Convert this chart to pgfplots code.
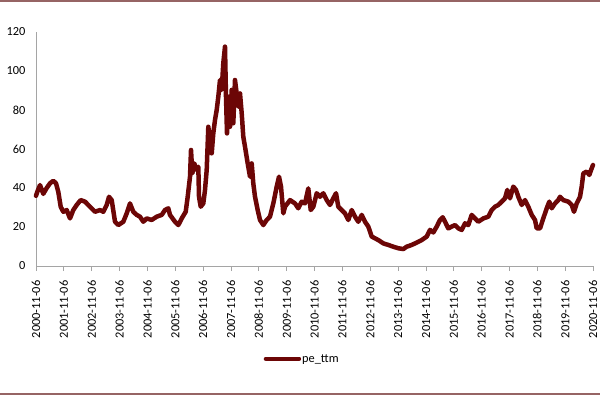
\documentclass[border=0pt]{standalone}
\usepackage{pgfplots}
\pgfplotsset{compat=1.18}
\usepackage{fontspec}
\setmainfont{Carlito}
\definecolor{lc}{RGB}{108,6,6}
\definecolor{fr}{RGB}{150,100,100}
\definecolor{ax}{RGB}{165,165,165}
\begin{document}
\begin{tikzpicture}[x=1bp,y=1bp]
\path[use as bounding box] (0,0) rectangle (600,396);
\draw[fr,line width=1.2bp] (0,395) -- (600,395);
\draw[fr,line width=1.2bp] (0,2) -- (600,2);
\begin{axis}[
  at={(36bp,130bp)}, anchor=south west,
  scale only axis, width=557bp, height=234bp,
  xmin=0, xmax=20, ymin=0, ymax=120,
  axis lines*=left,
  axis line style={ax, line width=0.8bp},
  xtick={0,...,20},
  xticklabels={2000-11-06,2001-11-06,2002-11-06,2003-11-06,2004-11-06,2005-11-06,2006-11-06,2007-11-06,2008-11-06,2009-11-06,2010-11-06,2011-11-06,2012-11-06,2013-11-06,2014-11-06,2015-11-06,2016-11-06,2017-11-06,2018-11-06,2019-11-06,2020-11-06},
  x tick label style={rotate=90, anchor=east, font=\fontsize{12.4}{14}\selectfont},
  xticklabel shift=6bp,
  ytick={0,20,...,120},
  y tick label style={font=\fontsize{12.4}{14}\selectfont},
  yticklabel shift=7bp,
  /pgf/number format/assume math mode=true,
  major tick length=5bp,
  xtick style={ax, line width=0.8bp},
  ytick style={draw=none},
  xtick align=outside,
  tick pos=left,
  clip=false,
  legend style={at={(0.477,-0.397)}, anchor=center, draw=none, fill=none, font=\fontsize{12.4}{14}\selectfont, nodes={inner xsep=1bp}},
  legend image code/.code={\draw[#1, line width=4.5bp, line cap=round] (0bp,0bp) -- (33bp,0bp);},
]
\addplot[lc, line width=4.5bp, line join=round, line cap=round] table {
x y
0.000 36
0.047 38
0.144 41.5
0.262 37
0.384 40
0.503 42.4
0.621 43.7
0.718 42.4
0.801 38
0.887 30.4
0.980 27.8
1.102 28.7
1.221 24.4
1.339 28.7
1.461 31.3
1.605 33.8
1.759 33
1.939 30.4
2.118 27.8
2.298 28.7
2.417 27.8
2.539 31.3
2.621 35.5
2.718 33.8
2.837 22.7
2.955 21
3.135 22.7
3.257 27
3.375 32.1
3.494 27.8
3.616 26.2
3.734 25.3
3.853 22.7
3.975 24.4
4.154 23.6
4.334 25.3
4.513 26.2
4.632 28.7
4.750 29.6
4.811 26.2
4.991 22.7
5.110 21
5.232 24.4
5.375 27.8
5.447 35.5
5.530 45.8
5.566 59.5
5.612 47.5
5.684 52.6
5.770 49.2
5.828 50.9
5.853 35.5
5.914 30.4
6.007 32.1
6.068 39
6.129 49.2
6.187 71.4
6.248 64.6
6.309 57.8
6.366 68
6.427 74.9
6.488 80
6.546 86.8
6.607 95.4
6.668 90.3
6.725 104
6.786 112.5
6.822 86.8
6.858 68
6.905 86.8
6.966 71.4
7.027 90.3
7.084 73.2
7.145 95.4
7.206 88.5
7.264 81.7
7.325 88.5
7.386 78.3
7.443 66.3
7.504 61.2
7.601 52.6
7.684 45.8
7.745 52.6
7.802 42.4
7.864 35.5
7.960 28.7
8.043 23.6
8.162 21
8.284 23.6
8.402 25.3
8.521 32.1
8.643 40.7
8.725 45.8
8.797 40.7
8.880 27
8.941 30.4
9.120 33.8
9.300 32.1
9.418 29.6
9.540 33
9.659 32.1
9.777 39.8
9.864 28.7
9.957 30.4
10.079 37.3
10.197 35.5
10.316 37.3
10.438 33.8
10.557 31.3
10.675 34.7
10.772 37.3
10.855 30.4
10.977 28.7
11.095 27
11.214 23.6
11.336 28.7
11.454 25.3
11.573 22.7
11.695 26.2
11.813 22.7
11.932 20.2
12.054 15.1
12.172 14.2
12.291 13.3
12.470 11.6
12.650 10.8
12.829 9.9
13.009 9.1
13.188 8.7
13.311 9.9
13.490 10.8
13.670 12
13.849 13.3
14.029 15.1
14.147 18.5
14.266 17.2
14.388 20.2
14.506 23.6
14.603 25
14.686 22.7
14.804 19.3
14.926 20.2
15.045 21
15.163 19.3
15.285 18.5
15.404 21.9
15.522 21
15.645 26.2
15.763 24.4
15.882 22.7
16.061 24.4
16.241 25.3
16.363 28.7
16.481 30.4
16.600 31.3
16.722 33
16.840 34.7
16.923 39
17.020 34.7
17.138 40.7
17.235 39
17.318 35.5
17.440 31.3
17.558 33.8
17.677 30.4
17.799 26.2
17.917 23.6
17.978 19.3
18.097 19.3
18.215 24.4
18.338 29.6
18.431 33
18.517 29.6
18.636 32.1
18.754 33.8
18.815 35.5
18.933 33.8
19.113 33
19.235 31.3
19.318 27.8
19.415 32.1
19.533 35.5
19.594 40.7
19.652 47.5
19.774 48.4
19.867 46.7
19.953 50.1
20.000 51.8
};
\addlegendentry{pe\_ttm}
\end{axis}
\end{tikzpicture}
\end{document}
